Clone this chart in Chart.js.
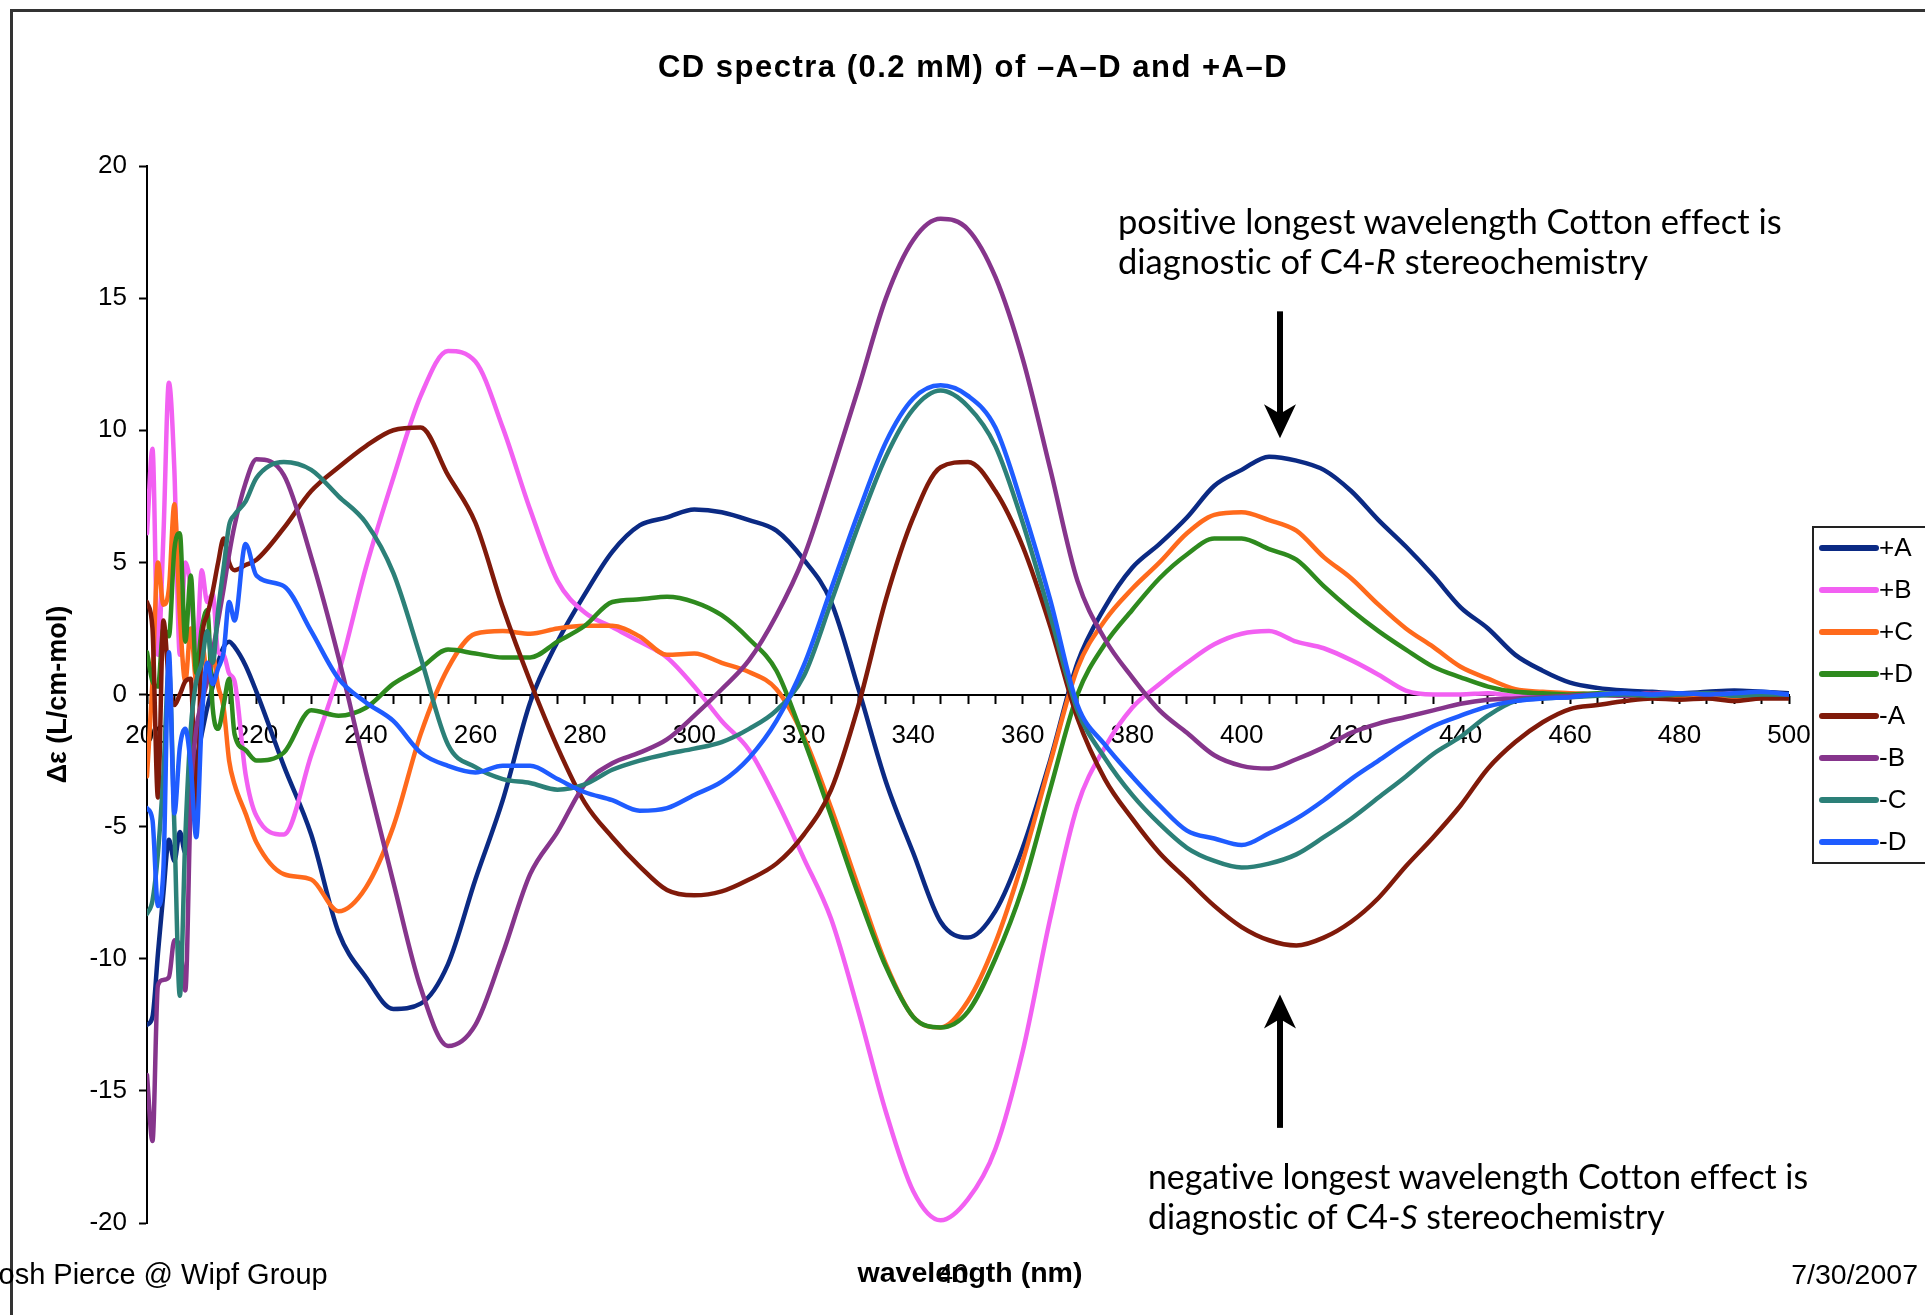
<!DOCTYPE html>
<html>
<head>
<meta charset="utf-8">
<script src="https://cdn.jsdelivr.net/npm/chart.js@4.4.1/dist/chart.umd.min.js"></script>
<style>
  html, body { margin: 0; padding: 0; background: #fff; }
  body { width: 1925px; height: 1315px; position: relative; overflow: hidden; font-family: "Liberation Sans", Arial, sans-serif; }
  #cd { position: absolute; left: 0; top: 0; }
  .frame { position: absolute; left: 10px; top: 9px; width: 1940px; height: 1340px; border-top: 3px solid #333; border-left: 3px solid #333; }
  .txt { position: absolute; white-space: nowrap; color: #000; }
  .note { font-family: Lato, "Open Sans", sans-serif; font-size: 34.5px; line-height: 40px; font-variant-ligatures: none; font-feature-settings: "liga" 0; }
</style>
</head>
<body>
<canvas id="cd" width="1925" height="1315"></canvas>
<div class="frame"></div>
<div class="txt" style="left:0;width:1946px;text-align:center;top:49px;font-weight:bold;font-size:31px;line-height:36px;letter-spacing:1.5px;">CD spectra (0.2 mM) of &ndash;A&ndash;D and +A&ndash;D</div>
<div class="txt note" style="left:1118px;top:201px;">positive longest wavelength Cotton effect is<br>diagnostic of C4-<i>R</i> stereochemistry</div>
<div class="txt note" style="left:1148px;top:1156px;font-size:33.8px;">negative longest wavelength Cotton effect is<br>diagnostic of C4-<i>S</i> stereochemistry</div>
<div class="txt" style="left:-16px;top:1258px;font-size:29px;line-height:32px;">Josh Pierce @ Wipf Group</div>
<div class="txt" style="right:7px;top:1258px;font-size:28.5px;line-height:32px;">7/30/2007</div>
<div class="txt" style="left:0;width:1940px;text-align:center;top:1256px;font-weight:bold;font-size:28.5px;line-height:32px;">wavelength (nm)</div>
<div class="txt" style="left:0;width:1906px;text-align:center;top:1258px;font-size:28px;line-height:32px;">40</div>
<script>
// wavelength grid (nm)
const wavelength = [200, 201, 202, 203, 204, 205, 206, 207, 208, 209, 210, 211, 212, 213, 214, 215, 216, 218, 220,
  225, 230, 235, 240, 245, 250, 255, 260, 265, 270, 275, 280, 285, 290, 295, 300, 305, 310, 315, 320, 325,
  330, 335, 340, 345, 350, 355, 360, 365, 370, 375, 380, 385, 390, 395, 400, 405, 410, 415, 420, 425,
  430, 435, 440, 445, 450, 455, 460, 465, 470, 475, 480, 485, 490, 495, 500];

const seriesNames = ['+A', '+B', '+C', '+D', '-A', '-B', '-C', '-D'];
const seriesColors = ['#0b2a84', '#f260f2', '#ff6a1c', '#2e8a1e', '#801a0a', '#86358c', '#2c8078', '#1f5cff'];

// delta epsilon (L/cm-mol)
const plusA = [-12.5, -12.2, -9.8, -7.5, -5.5, -6.3, -5.2, -6.0, -3.5, -2.5, -1.5, -0.5, 0.3, 1.2, 1.8, 2.0, 1.8, 1.1, 0.1,
  -2.7, -5.3, -9.0, -10.7, -11.9, -11.7, -10.2, -7.0, -4.0, -0.3, 2.0, 3.8, 5.4, 6.4, 6.7, 7.0, 6.9, 6.6, 6.2, 5.1, 3.5,
  0.2, -3.3, -6.0, -8.6, -9.2, -8.2, -5.8, -2.5, 1.2, 3.3, 4.8, 5.7, 6.7, 7.9, 8.5, 9.0, 8.85, 8.5, 7.7, 6.6,
  5.6, 4.5, 3.3, 2.5, 1.5, 0.9, 0.45, 0.25, 0.15, 0.1, 0.05, 0.1, 0.15, 0.1, 0.05];
const plusB = [6.1, 9.3, 1.5, 6.0, 11.8, 8.5, 1.5, 5.0, 4.0, 1.5, 4.7, 3.5, 3.8, 1.6, 1.5, 0.8, 0.5, -3.0, -4.6,
  -5.3, -2.3, 0.8, 4.8, 8.2, 11.3, 13.0, 12.6, 10.1, 7.0, 4.3, 3.1, 2.55, 2.0, 1.4, 0.3, -1.0, -2.1, -4.0, -6.2, -8.5,
  -12.0, -15.8, -18.8, -19.9, -19.1, -17.2, -13.5, -8.5, -4.2, -2.0, -0.5, 0.4, 1.2, 1.9, 2.3, 2.4, 2.0, 1.75, 1.3, 0.75,
  0.15, 0.0, 0.0, 0.05, -0.05, 0.0, -0.1, 0.0, -0.05, 0.05, 0.0, -0.05, 0.05, 0.0, -0.05];
const plusC = [-3.1, 0.5, 5.0, 3.4, 4.0, 7.2, 3.0, 0.5, 2.5, 0.5, 2.0, 0.8, 1.5, 0.3, -0.5, -2.5, -3.4, -4.5, -5.6,
  -6.8, -7.0, -8.2, -7.3, -5.0, -1.5, 1.0, 2.3, 2.4, 2.3, 2.5, 2.6, 2.6, 2.2, 1.5, 1.55, 1.2, 0.85, 0.2, -1.6, -4.3,
  -7.3, -10.2, -12.2, -12.6, -11.6, -9.4, -6.3, -2.6, 1.0, 2.8, 4.0, 5.0, 6.1, 6.8, 6.9, 6.6, 6.2, 5.2, 4.4, 3.4,
  2.5, 1.8, 1.05, 0.6, 0.2, 0.1, 0.05, 0.0, -0.05, 0.0, -0.1, -0.05, -0.1, -0.05, -0.1];
const plusD = [1.6, 0.5, 0.3, 2.5, 2.2, 5.5, 6.1, 2.0, 4.5, 0.8, 2.5, 3.2, -0.5, -1.3, -0.4, 0.6, -1.5, -2.1, -2.5,
  -2.2, -0.6, -0.8, -0.5, 0.4, 1.0, 1.7, 1.55, 1.4, 1.4, 2.0, 2.6, 3.5, 3.6, 3.7, 3.5, 3.0, 2.1, 0.9, -1.7, -4.6,
  -7.6, -10.3, -12.2, -12.6, -12.0, -10.0, -7.3, -3.6, 0.0, 1.9, 3.2, 4.4, 5.3, 5.9, 5.9, 5.5, 5.1, 4.1, 3.2, 2.4,
  1.7, 1.05, 0.65, 0.3, 0.1, 0.05, 0.0, 0.05, 0.0, -0.05, 0.0, 0.05, 0.0, -0.05, 0.0];
const minusA = [3.5, 2.5, -3.9, 2.8, 0.5, -0.4, 0.0, 0.5, 0.6, -4.7, 2.0, 3.0, 3.9, 5.0, 5.9, 5.0, 4.7, 4.9, 5.1,
  6.3, 7.7, 8.6, 9.4, 10.0, 10.1, 8.3, 6.5, 3.3, 0.5, -2.0, -4.1, -5.4, -6.5, -7.4, -7.6, -7.45, -7.0, -6.4, -5.3, -3.6,
  -0.4, 3.6, 6.7, 8.6, 8.8, 7.7, 5.6, 2.6, -0.9, -3.2, -4.7, -6.0, -7.0, -8.0, -8.8, -9.3, -9.5, -9.2, -8.6, -7.7,
  -6.5, -5.4, -4.2, -2.8, -1.8, -1.05, -0.55, -0.4, -0.25, -0.15, -0.2, -0.15, -0.25, -0.15, -0.15];
const minusB = [-14.4, -16.9, -11.0, -10.8, -10.7, -9.3, -9.5, -11.2, -3.9, -1.3, -0.3, 0.5, 1.6, 2.8, 4.0, 5.3, 6.4, 8.0, 8.9,
  8.3, 5.2, 1.4, -2.95, -7.1, -11.1, -13.3, -12.5, -9.8, -6.8, -5.2, -3.4, -2.6, -2.2, -1.7, -0.8, 0.2, 1.3, 3.0, 5.2, 8.3,
  11.6, 15.0, 17.2, 18.0, 17.6, 15.8, 12.7, 8.55, 4.3, 2.1, 0.65, -0.6, -1.45, -2.3, -2.7, -2.8, -2.45, -2.0, -1.45, -1.1,
  -0.85, -0.6, -0.35, -0.2, -0.15, -0.1, -0.05, 0.0, -0.05, 0.05, 0.0, 0.05, 0.0, 0.05, 0.0];
const minusC = [-8.3, -7.8, -6.0, -3.0, 1.0, -5.0, -11.4, -5.4, -1.3, 0.5, 1.2, 2.4, 1.2, 3.2, 4.8, 6.4, 6.8, 7.3, 8.2,
  8.8, 8.5, 7.5, 6.5, 4.6, 1.4, -1.9, -2.75, -3.2, -3.35, -3.6, -3.4, -2.85, -2.5, -2.25, -2.05, -1.8, -1.3, -0.6, 0.7, 3.5,
  6.4, 9.0, 10.8, 11.5, 10.9, 9.4, 6.5, 3.0, -0.6, -2.4, -3.8, -4.9, -5.8, -6.3, -6.55, -6.4, -6.05, -5.4, -4.7, -3.9,
  -3.1, -2.25, -1.6, -0.8, -0.25, -0.15, -0.1, -0.05, 0.0, -0.05, 0.0, 0.05, -0.05, 0.0, 0.0];
const minusD = [-4.3, -4.75, -8.0, -6.6, 1.6, -4.5, -2.0, -1.3, -2.7, -5.4, -1.0, 1.2, 0.4, 1.0, 1.6, 3.5, 2.8, 5.7, 4.5,
  4.1, 2.4, 0.6, -0.3, -1.0, -2.2, -2.7, -2.95, -2.7, -2.7, -3.2, -3.7, -4.0, -4.4, -4.3, -3.8, -3.3, -2.4, -1.0, 1.1, 4.0,
  6.9, 9.55, 11.2, 11.7, 11.3, 10.1, 7.1, 3.6, -0.4, -1.9, -3.1, -4.2, -5.15, -5.45, -5.7, -5.25, -4.7, -4.0, -3.2, -2.5,
  -1.8, -1.2, -0.8, -0.45, -0.25, -0.15, -0.1, 0.0, 0.05, 0.0, 0.05, 0.0, 0.05, 0.1, 0.0];

const seriesValues = [plusA, plusB, plusC, plusD, minusA, minusB, minusC, minusD];

// arrows pointing at the longest wavelength Cotton effect (x in nm, y in data units)
const arrows = [
  { x: 407, from: 14.5, to: 9.7 },
  { x: 407, from: -16.4, to: -11.35 }
];

const FONT = '"Liberation Sans", Arial, sans-serif';

const datasets = seriesNames.map((name, i) => ({
  label: name,
  data: wavelength.map((w, j) => ({ x: w, y: seriesValues[i][j] })),
  borderColor: seriesColors[i],
  backgroundColor: seriesColors[i],
  borderWidth: 4.5,
  pointRadius: 0,
  cubicInterpolationMode: 'monotone',
  borderJoinStyle: 'round',
  borderCapStyle: 'round',
  fill: false,
  order: seriesNames.length - i
}));

function drawArrow(ctx, x, y0, y1) {
  const dir = y1 > y0 ? 1 : -1;
  const headLen = 34, halfW = 16;
  ctx.save();
  ctx.strokeStyle = '#000';
  ctx.fillStyle = '#000';
  ctx.lineWidth = 6;
  ctx.beginPath();
  ctx.moveTo(x, y0);
  ctx.lineTo(x, y1 - dir * headLen * 0.7);
  ctx.stroke();
  ctx.beginPath();
  ctx.moveTo(x, y1);
  ctx.lineTo(x - halfW, y1 - dir * headLen);
  ctx.lineTo(x, y1 - dir * headLen * 0.72);
  ctx.lineTo(x + halfW, y1 - dir * headLen);
  ctx.closePath();
  ctx.fill();
  ctx.restore();
}

const extras = {
  id: 'extras',
  afterDatasetsDraw(chart) {
    const { ctx, scales: { x, y } } = chart;
    arrows.forEach(a => drawArrow(ctx, x.getPixelForValue(a.x), y.getPixelForValue(a.from), y.getPixelForValue(a.to)));
  },
  afterDraw(chart) {
    // boxed legend at the right edge
    const ctx = chart.ctx;
    const box = { left: 1813, top: 527, width: 150, height: 336 };
    const rowH = 42, firstRow = 548;
    ctx.save();
    ctx.fillStyle = '#fff';
    ctx.fillRect(box.left, box.top, box.width, box.height);
    ctx.strokeStyle = '#222';
    ctx.lineWidth = 2;
    ctx.strokeRect(box.left, box.top, box.width, box.height);
    ctx.font = '26px ' + FONT;
    ctx.textBaseline = 'middle';
    ctx.textAlign = 'left';
    chart.data.datasets.forEach((ds, i) => {
      const yy = firstRow + i * rowH;
      ctx.strokeStyle = ds.borderColor;
      ctx.lineWidth = 6;
      ctx.lineCap = 'round';
      ctx.beginPath();
      ctx.moveTo(1822, yy);
      ctx.lineTo(1876, yy);
      ctx.stroke();
      ctx.fillStyle = '#000';
      ctx.fillText(ds.label, 1879, yy + 1);
    });
    ctx.restore();
  }
};

new Chart(document.getElementById('cd'), {
  type: 'line',
  data: { datasets },
  options: {
    responsive: false,
    animation: false,
    devicePixelRatio: 1,
    layout: { padding: { left: 0, right: 136, top: 166, bottom: 92 } },
    plugins: { legend: { display: false }, title: { display: false }, tooltip: { enabled: false } },
    scales: {
      x: {
        type: 'linear',
        min: 200,
        max: 500,
        position: { y: 0 },
        ticks: {
          stepSize: 5,
          autoSkip: false,
          maxRotation: 0,
          color: '#000',
          padding: 18,
          font: { size: 26, family: FONT },
          callback: v => (v % 20 === 0 ? String(v) : '')
        },
        grid: { drawOnChartArea: false, drawTicks: true, tickLength: 8, tickColor: '#000', tickWidth: 2 },
        border: { display: true, color: '#000', width: 2 }
      },
      y: {
        min: -20,
        max: 20,
        ticks: { stepSize: 5, color: '#000', padding: 12, font: { size: 26, family: FONT } },
        grid: { drawOnChartArea: false, drawTicks: true, tickLength: 8, tickColor: '#000', tickWidth: 2 },
        border: { display: true, color: '#000', width: 2 },
        title: {
          display: true,
          text: 'Δε (L/cm-mol)',
          color: '#000',
          font: { size: 27, weight: 'bold', family: FONT },
          padding: { top: 42, bottom: 0 }
        },
        afterFit: s => { s.width = 147; }
      }
    }
  },
  plugins: [extras]
});
</script>
</body>
</html>
